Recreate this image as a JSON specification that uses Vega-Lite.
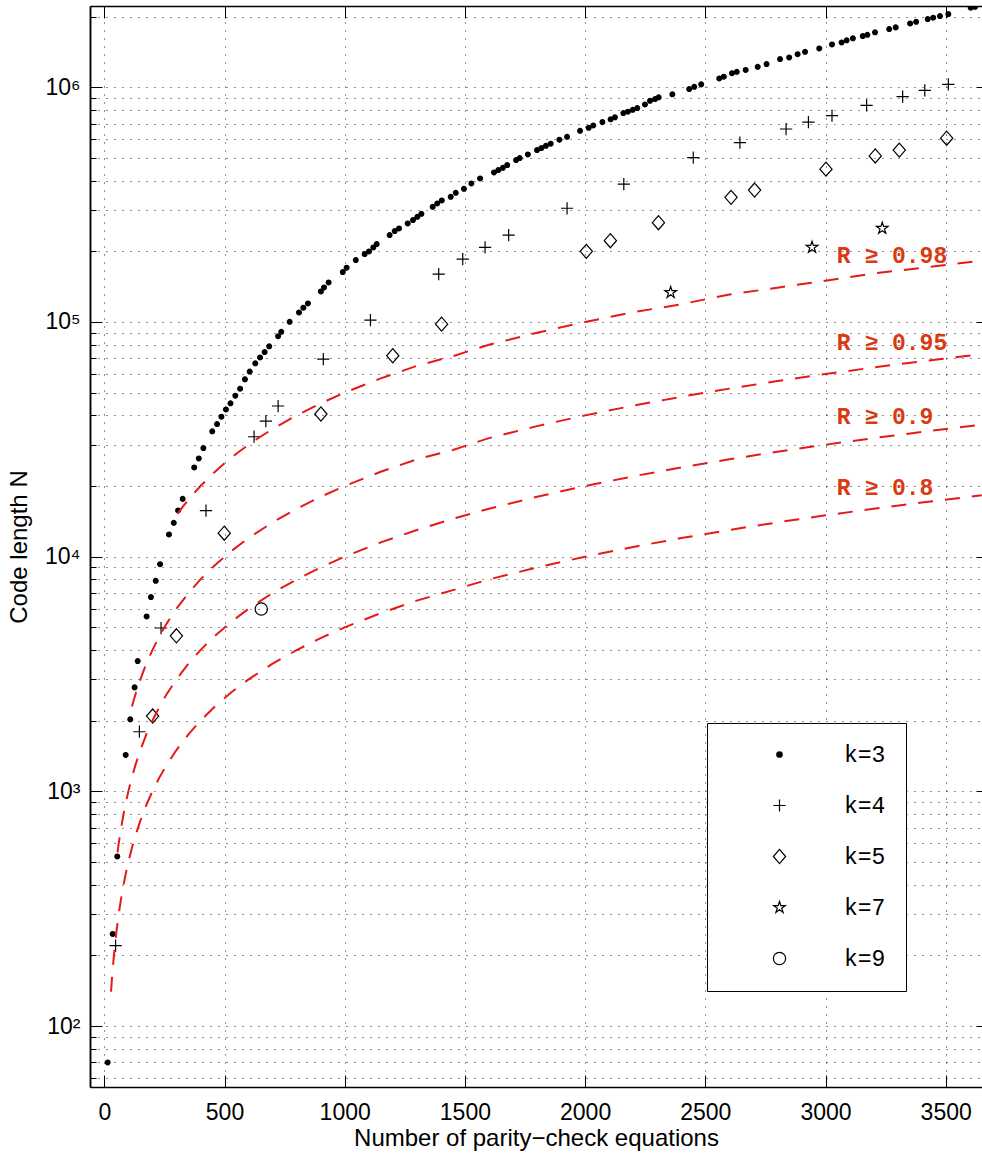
{
  "$schema": "https://vega.github.io/schema/vega-lite/v6.json",
  "width": 892,
  "height": 1081,
  "autosize": {"type": "none"},
  "padding": {"left": 90, "top": 6, "right": 0, "bottom": 66},
  "background": "white",
  "config": {
    "view": {"stroke": null},
    "axis": {"labelFont": "Liberation Sans", "titleFont": "Liberation Sans", "labelColor": "black", "titleColor": "black", "tickColor": "black", "domainColor": "black", "labelFontSize": 23, "titleFontSize": 24, "titleFontWeight": "normal", "labelOverlap": false, "labelFlush": false, "labelBound": false},
    "legend": {"labelFont": "Liberation Mono", "labelFontSize": 23, "labelColor": "black"}
  },
  "datasets": {
    "pts": [
      {"k": "k=3", "M": 14, "N": 70}, {"k": "k=3", "M": 35, "N": 247}, {"k": "k=3", "M": 54, "N": 528}, {"k": "k=3", "M": 89, "N": 1429}, {"k": "k=3", "M": 108, "N": 2028}, {"k": "k=3", "M": 126, "N": 2774}, {"k": "k=3", "M": 139, "N": 3590}, {"k": "k=3", "M": 176, "N": 5565}, {"k": "k=3", "M": 194, "N": 6725}, {"k": "k=3", "M": 214, "N": 7890}, {"k": "k=3", "M": 232, "N": 9290}, {"k": "k=3", "M": 269, "N": 12440}, {"k": "k=3", "M": 289, "N": 13940}, {"k": "k=3", "M": 307, "N": 15740}, {"k": "k=3", "M": 326, "N": 17650}, {"k": "k=3", "M": 374, "N": 23990}, {"k": "k=3", "M": 393, "N": 26220}, {"k": "k=3", "M": 412, "N": 29020}, {"k": "k=3", "M": 449, "N": 34200}, {"k": "k=3", "M": 469, "N": 36730}, {"k": "k=3", "M": 487, "N": 39470}, {"k": "k=3", "M": 506, "N": 42420},
      {"k": "k=3", "M": 525, "N": 45000}, {"k": "k=3", "M": 545, "N": 48500}, {"k": "k=3", "M": 565, "N": 52000}, {"k": "k=3", "M": 585, "N": 57000}, {"k": "k=3", "M": 605, "N": 61500},
      {"k": "k=3", "M": 628, "N": 66640}, {"k": "k=3", "M": 648, "N": 70650}, {"k": "k=3", "M": 667, "N": 74450}, {"k": "k=3", "M": 686, "N": 78720}, {"k": "k=3", "M": 723, "N": 87040}, {"k": "k=3", "M": 736, "N": 90830}, {"k": "k=3", "M": 771, "N": 100200}, {"k": "k=3", "M": 810, "N": 109800}, {"k": "k=3", "M": 828, "N": 115000}, {"k": "k=3", "M": 847, "N": 120000}, {"k": "k=3", "M": 901, "N": 135000}, {"k": "k=3", "M": 914, "N": 140300}, {"k": "k=3", "M": 933, "N": 147400}, {"k": "k=3", "M": 992, "N": 163200}, {"k": "k=3", "M": 1008, "N": 170300}, {"k": "k=3", "M": 1046, "N": 183600}, {"k": "k=3", "M": 1083, "N": 194700}, {"k": "k=3", "M": 1101, "N": 199900}, {"k": "k=3", "M": 1119, "N": 207800}, {"k": "k=3", "M": 1133, "N": 214700}, {"k": "k=3", "M": 1187, "N": 234600}, {"k": "k=3", "M": 1208, "N": 243900}, {"k": "k=3", "M": 1226, "N": 250400}, {"k": "k=3", "M": 1262, "N": 263000}, {"k": "k=3", "M": 1284, "N": 271700}, {"k": "k=3", "M": 1302, "N": 280600}, {"k": "k=3", "M": 1319, "N": 289000}, {"k": "k=3", "M": 1366, "N": 309600}, {"k": "k=3", "M": 1385, "N": 319900}, {"k": "k=3", "M": 1404, "N": 329500}, {"k": "k=3", "M": 1441, "N": 341600}, {"k": "k=3", "M": 1462, "N": 355100}, {"k": "k=3", "M": 1496, "N": 369300}, {"k": "k=3", "M": 1527, "N": 389200}, {"k": "k=3", "M": 1563, "N": 408900}, {"k": "k=3", "M": 1621, "N": 433700}, {"k": "k=3", "M": 1639, "N": 443700}, {"k": "k=3", "M": 1658, "N": 453900}, {"k": "k=3", "M": 1676, "N": 466300}, {"k": "k=3", "M": 1713, "N": 489800}, {"k": "k=3", "M": 1728, "N": 499400}, {"k": "k=3", "M": 1762, "N": 517500}, {"k": "k=3", "M": 1800, "N": 540000}, {"k": "k=3", "M": 1818, "N": 550600}, {"k": "k=3", "M": 1837, "N": 563300}, {"k": "k=3", "M": 1857, "N": 574700}, {"k": "k=3", "M": 1893, "N": 597700}, {"k": "k=3", "M": 1925, "N": 615000}, {"k": "k=3", "M": 1979, "N": 652500}, {"k": "k=3", "M": 2015, "N": 671800}, {"k": "k=3", "M": 2034, "N": 688000}, {"k": "k=3", "M": 2072, "N": 710500}, {"k": "k=3", "M": 2106, "N": 730000}, {"k": "k=3", "M": 2124, "N": 744600}, {"k": "k=3", "M": 2159, "N": 776800}, {"k": "k=3", "M": 2178, "N": 786900}, {"k": "k=3", "M": 2198, "N": 802000}, {"k": "k=3", "M": 2217, "N": 815500}, {"k": "k=3", "M": 2249, "N": 845000},
      {"k": "k=3", "M": 2270, "N": 876000}, {"k": "k=3", "M": 2291, "N": 891000}, {"k": "k=3", "M": 2306, "N": 906000}, {"k": "k=3", "M": 2363, "N": 933000}, {"k": "k=3", "M": 2433, "N": 983000}, {"k": "k=3", "M": 2454, "N": 1005000}, {"k": "k=3", "M": 2483, "N": 1029000}, {"k": "k=3", "M": 2558, "N": 1091000}, {"k": "k=3", "M": 2577, "N": 1109000}, {"k": "k=3", "M": 2611, "N": 1148000}, {"k": "k=3", "M": 2631, "N": 1164000}, {"k": "k=3", "M": 2668, "N": 1185000}, {"k": "k=3", "M": 2718, "N": 1222000}, {"k": "k=3", "M": 2755, "N": 1256000}, {"k": "k=3", "M": 2811, "N": 1319000}, {"k": "k=3", "M": 2849, "N": 1341000}, {"k": "k=3", "M": 2884, "N": 1384000}, {"k": "k=3", "M": 2915, "N": 1416000}, {"k": "k=3", "M": 2974, "N": 1464000}, {"k": "k=3", "M": 3027, "N": 1523000}, {"k": "k=3", "M": 3067, "N": 1553000}, {"k": "k=3", "M": 3088, "N": 1585000}, {"k": "k=3", "M": 3114, "N": 1616000}, {"k": "k=3", "M": 3155, "N": 1652000}, {"k": "k=3", "M": 3174, "N": 1674000}, {"k": "k=3", "M": 3206, "N": 1714000}, {"k": "k=3", "M": 3265, "N": 1771000}, {"k": "k=3", "M": 3292, "N": 1800000}, {"k": "k=3", "M": 3352, "N": 1871000}, {"k": "k=3", "M": 3377, "N": 1902000}, {"k": "k=3", "M": 3425, "N": 1953000}, {"k": "k=3", "M": 3448, "N": 1979000}, {"k": "k=3", "M": 3476, "N": 2011000}, {"k": "k=3", "M": 3511, "N": 2050000}, {"k": "k=3", "M": 3604, "N": 2183000}, {"k": "k=3", "M": 3622, "N": 2203000},
      {"k": "k=4", "M": 47, "N": 220}, {"k": "k=4", "M": 146, "N": 1795}, {"k": "k=4", "M": 236, "N": 4966}, {"k": "k=4", "M": 423, "N": 15710}, {"k": "k=4", "M": 623, "N": 32440}, {"k": "k=4", "M": 672, "N": 37840}, {"k": "k=4", "M": 723, "N": 43850}, {"k": "k=4", "M": 911, "N": 69470}, {"k": "k=4", "M": 1107, "N": 101900}, {"k": "k=4", "M": 1391, "N": 160000}, {"k": "k=4", "M": 1491, "N": 185400}, {"k": "k=4", "M": 1584, "N": 207900}, {"k": "k=4", "M": 1682, "N": 234600}, {"k": "k=4", "M": 1925, "N": 305200}, {"k": "k=4", "M": 2161, "N": 387000}, {"k": "k=4", "M": 2450, "N": 502000}, {"k": "k=4", "M": 2644, "N": 581000}, {"k": "k=4", "M": 2836, "N": 664000}, {"k": "k=4", "M": 2929, "N": 711000}, {"k": "k=4", "M": 3027, "N": 757000}, {"k": "k=4", "M": 3171, "N": 838000}, {"k": "k=4", "M": 3321, "N": 912000}, {"k": "k=4", "M": 3413, "N": 971000}, {"k": "k=4", "M": 3511, "N": 1029000},
      {"k": "k=5", "M": 201, "N": 2094}, {"k": "k=5", "M": 300, "N": 4600}, {"k": "k=5", "M": 499, "N": 12590}, {"k": "k=5", "M": 901, "N": 40550}, {"k": "k=5", "M": 1200, "N": 71800}, {"k": "k=5", "M": 1403, "N": 97900}, {"k": "k=5", "M": 2005, "N": 200000}, {"k": "k=5", "M": 2105, "N": 222000}, {"k": "k=5", "M": 2305, "N": 264800}, {"k": "k=5", "M": 2607, "N": 339600}, {"k": "k=5", "M": 2705, "N": 364800}, {"k": "k=5", "M": 3002, "N": 448000}, {"k": "k=5", "M": 3207, "N": 510000}, {"k": "k=5", "M": 3307, "N": 540000}, {"k": "k=5", "M": 3504, "N": 607000},
      {"k": "k=7", "M": 2356, "N": 133600}, {"k": "k=7", "M": 2944, "N": 208000}, {"k": "k=7", "M": 3236, "N": 250600},
      {"k": "k=9", "M": 653, "N": 5985}
    ],
    "curves": [
      {"R": "0.98", "M": 305, "N": 15250}, {"R": "0.98", "M": 330, "N": 16500}, {"R": "0.98", "M": 360, "N": 18000}, {"R": "0.98", "M": 400, "N": 20000}, {"R": "0.98", "M": 450, "N": 22500}, {"R": "0.98", "M": 500, "N": 25000}, {"R": "0.98", "M": 560, "N": 28000}, {"R": "0.98", "M": 630, "N": 31500}, {"R": "0.98", "M": 700, "N": 35000}, {"R": "0.98", "M": 800, "N": 40000}, {"R": "0.98", "M": 900, "N": 45000}, {"R": "0.98", "M": 1000, "N": 50000}, {"R": "0.98", "M": 1150, "N": 57500}, {"R": "0.98", "M": 1300, "N": 65000}, {"R": "0.98", "M": 1450, "N": 71500}, {"R": "0.98", "M": 1600, "N": 80000}, {"R": "0.98", "M": 1800, "N": 90000}, {"R": "0.98", "M": 2000, "N": 100000}, {"R": "0.98", "M": 2200, "N": 110000}, {"R": "0.98", "M": 2400, "N": 119000}, {"R": "0.98", "M": 2600, "N": 131000}, {"R": "0.98", "M": 2800, "N": 140000}, {"R": "0.98", "M": 3000, "N": 150000}, {"R": "0.98", "M": 3200, "N": 161000}, {"R": "0.98", "M": 3400, "N": 170000}, {"R": "0.98", "M": 3650, "N": 182500},
      {"R": "0.95", "M": 115, "N": 2300}, {"R": "0.95", "M": 125, "N": 2500}, {"R": "0.95", "M": 140, "N": 2800}, {"R": "0.95", "M": 160, "N": 3200}, {"R": "0.95", "M": 180, "N": 3600}, {"R": "0.95", "M": 200, "N": 4000}, {"R": "0.95", "M": 230, "N": 4600}, {"R": "0.95", "M": 260, "N": 5200}, {"R": "0.95", "M": 300, "N": 6000}, {"R": "0.95", "M": 350, "N": 7000}, {"R": "0.95", "M": 400, "N": 8000}, {"R": "0.95", "M": 460, "N": 9200}, {"R": "0.95", "M": 530, "N": 10600}, {"R": "0.95", "M": 600, "N": 12000}, {"R": "0.95", "M": 700, "N": 14000}, {"R": "0.95", "M": 800, "N": 16000}, {"R": "0.95", "M": 900, "N": 18000}, {"R": "0.95", "M": 1000, "N": 20000}, {"R": "0.95", "M": 1150, "N": 23000}, {"R": "0.95", "M": 1300, "N": 26000}, {"R": "0.95", "M": 1450, "N": 28500}, {"R": "0.95", "M": 1600, "N": 32000}, {"R": "0.95", "M": 1800, "N": 36000}, {"R": "0.95", "M": 2000, "N": 40000}, {"R": "0.95", "M": 2200, "N": 44000}, {"R": "0.95", "M": 2400, "N": 48000}, {"R": "0.95", "M": 2600, "N": 52000}, {"R": "0.95", "M": 2800, "N": 56000}, {"R": "0.95", "M": 3000, "N": 60000}, {"R": "0.95", "M": 3200, "N": 64000}, {"R": "0.95", "M": 3400, "N": 68000}, {"R": "0.95", "M": 3650, "N": 73000},
      {"R": "0.9", "M": 55, "N": 550}, {"R": "0.9", "M": 60, "N": 600}, {"R": "0.9", "M": 65, "N": 650}, {"R": "0.9", "M": 70, "N": 700}, {"R": "0.9", "M": 80, "N": 800}, {"R": "0.9", "M": 90, "N": 900}, {"R": "0.9", "M": 100, "N": 1000}, {"R": "0.9", "M": 115, "N": 1150}, {"R": "0.9", "M": 130, "N": 1300}, {"R": "0.9", "M": 150, "N": 1500}, {"R": "0.9", "M": 175, "N": 1750}, {"R": "0.9", "M": 200, "N": 2000}, {"R": "0.9", "M": 230, "N": 2300}, {"R": "0.9", "M": 260, "N": 2600}, {"R": "0.9", "M": 300, "N": 3000}, {"R": "0.9", "M": 350, "N": 3500}, {"R": "0.9", "M": 400, "N": 4000}, {"R": "0.9", "M": 460, "N": 4600}, {"R": "0.9", "M": 530, "N": 5300}, {"R": "0.9", "M": 600, "N": 6000}, {"R": "0.9", "M": 700, "N": 7000}, {"R": "0.9", "M": 800, "N": 8000}, {"R": "0.9", "M": 900, "N": 9000}, {"R": "0.9", "M": 1000, "N": 10000}, {"R": "0.9", "M": 1150, "N": 11500}, {"R": "0.9", "M": 1300, "N": 13000}, {"R": "0.9", "M": 1450, "N": 14500}, {"R": "0.9", "M": 1600, "N": 16000}, {"R": "0.9", "M": 1800, "N": 18000}, {"R": "0.9", "M": 2000, "N": 20000}, {"R": "0.9", "M": 2200, "N": 22000}, {"R": "0.9", "M": 2400, "N": 24000}, {"R": "0.9", "M": 2600, "N": 26000}, {"R": "0.9", "M": 2800, "N": 28000}, {"R": "0.9", "M": 3000, "N": 30000}, {"R": "0.9", "M": 3200, "N": 32000}, {"R": "0.9", "M": 3400, "N": 34000}, {"R": "0.9", "M": 3650, "N": 36500},
      {"R": "0.8", "M": 28, "N": 140}, {"R": "0.8", "M": 32, "N": 160}, {"R": "0.8", "M": 36, "N": 180}, {"R": "0.8", "M": 40, "N": 200}, {"R": "0.8", "M": 45, "N": 225}, {"R": "0.8", "M": 50, "N": 250}, {"R": "0.8", "M": 55, "N": 275}, {"R": "0.8", "M": 60, "N": 300}, {"R": "0.8", "M": 70, "N": 350}, {"R": "0.8", "M": 80, "N": 400}, {"R": "0.8", "M": 90, "N": 450}, {"R": "0.8", "M": 100, "N": 500}, {"R": "0.8", "M": 115, "N": 575}, {"R": "0.8", "M": 130, "N": 650}, {"R": "0.8", "M": 150, "N": 750}, {"R": "0.8", "M": 175, "N": 875}, {"R": "0.8", "M": 200, "N": 1000}, {"R": "0.8", "M": 230, "N": 1150}, {"R": "0.8", "M": 260, "N": 1300}, {"R": "0.8", "M": 300, "N": 1500}, {"R": "0.8", "M": 350, "N": 1750}, {"R": "0.8", "M": 400, "N": 2000}, {"R": "0.8", "M": 460, "N": 2300}, {"R": "0.8", "M": 530, "N": 2650}, {"R": "0.8", "M": 600, "N": 3000}, {"R": "0.8", "M": 700, "N": 3500}, {"R": "0.8", "M": 800, "N": 4000}, {"R": "0.8", "M": 900, "N": 4500}, {"R": "0.8", "M": 1000, "N": 5000}, {"R": "0.8", "M": 1150, "N": 5750}, {"R": "0.8", "M": 1300, "N": 6500}, {"R": "0.8", "M": 1450, "N": 7200}, {"R": "0.8", "M": 1600, "N": 8000}, {"R": "0.8", "M": 1800, "N": 9000}, {"R": "0.8", "M": 2000, "N": 10000}, {"R": "0.8", "M": 2200, "N": 11000}, {"R": "0.8", "M": 2400, "N": 12000}, {"R": "0.8", "M": 2600, "N": 13000}, {"R": "0.8", "M": 2800, "N": 14000}, {"R": "0.8", "M": 3000, "N": 15000}, {"R": "0.8", "M": 3200, "N": 16000}, {"R": "0.8", "M": 3400, "N": 17000}, {"R": "0.8", "M": 3650, "N": 18250}
    ],
    "notes": [
      {"t": "R ≥ 0.98", "M": 3047, "N": 191000},
      {"t": "R ≥ 0.95", "M": 3047, "N": 81100},
      {"t": "R ≥ 0.9", "M": 3047, "N": 39300},
      {"t": "R ≥ 0.8", "M": 3047, "N": 19700}
    ]
  },
  "layer": [
    {
      "data": {"name": "pts"},
      "mark": {"type": "point", "opacity": 1, "stroke": "black", "strokeWidth": 1.2, "clip": true},
      "encoding": {
        "x": {"field": "M", "type": "quantitative", "scale": {"domain": [-59.5, 3651], "nice": false, "zero": false},
          "axis": {"orient": "bottom", "values": [0, 500, 1000, 1500, 2000, 2500, 3000, 3500], "format": "d", "title": "Number of parity−check equations", "grid": true, "gridDash": [1, 7], "gridColor": "black", "gridOpacity": 0.85, "tickSize": -12, "labelPadding": 26, "titlePadding": 2, "domainWidth": 1.5}},
        "y": {"field": "N", "type": "quantitative", "scale": {"type": "log", "domain": [55, 2220000], "nice": false},
          "axis": {"orient": "left", "values": [60, 70, 80, 90, 100, 200, 300, 400, 500, 600, 700, 800, 900, 1000, 2000, 3000, 4000, 5000, 6000, 7000, 8000, 9000, 10000, 20000, 30000, 40000, 50000, 60000, 70000, 80000, 90000, 100000, 200000, 300000, 400000, 500000, 600000, 700000, 800000, 900000, 1000000, 2000000], "labels": false, "title": null, "grid": true, "gridDash": [1, 7], "gridColor": "black", "gridOpacity": 0.85, "tickSize": -6, "domainWidth": 1.5}},
        "shape": {"field": "k", "type": "nominal",
          "scale": {"domain": ["k=3", "k=4", "k=5", "k=7", "k=9"], "range": ["M-0.45,0A0.45,0.45 0 1,0 0.45,0A0.45,0.45 0 1,0 -0.45,0ZM-0.26,0A0.26,0.26 0 1,0 0.26,0A0.26,0.26 0 1,0 -0.26,0ZM-0.08,0A0.08,0.08 0 1,0 0.08,0A0.08,0.08 0 1,0 -0.08,0Z", "M-1,0H1M0,-1V1", "M0,-1.15L1,0L0,1.15L-1,0Z", "M0,-1L0.2245,-0.309L0.951,-0.309L0.3633,0.118L0.588,0.809L0,0.382L-0.588,0.809L-0.3633,0.118L-0.951,-0.309L-0.2245,-0.309Z", "circle"]},
          "legend": {"title": null, "orient": "none", "legendX": 617, "legendY": 717, "strokeColor": "black", "fillColor": "white", "padding": 20, "rowPadding": 27, "labelFont": "Liberation Mono", "labelFontSize": 23, "labelColor": "black", "symbolOffset": 41, "labelOffset": 53, "symbolSize": 150, "symbolStrokeColor": "black", "symbolStrokeWidth": 1.2, "symbolFillColor": "transparent", "symbolOpacity": 1, "zindex": 1}},
        "fill": {"condition": {"test": "datum.k == 'k=3'", "value": "black"}, "value": "transparent"},
        "size": {"condition": {"test": "datum.k == 'k=3'", "value": 114}, "value": 150}
      }
    },
    {
      "data": {"name": "curves"},
      "mark": {"type": "line", "stroke": "#e41a1a", "strokeWidth": 2, "strokeDash": [15, 12], "clip": true},
      "encoding": {
        "x": {"field": "M", "type": "quantitative", "scale": {"domain": [-59.5, 3651], "nice": false, "zero": false},
          "axis": {"orient": "top", "values": [0, 500, 1000, 1500, 2000, 2500, 3000, 3500], "labels": false, "title": null, "grid": false, "tickSize": -12, "domainWidth": 1.5}},
        "y": {"field": "N", "type": "quantitative", "scale": {"type": "log", "domain": [55, 2220000], "nice": false},
          "axis": {"orient": "left", "values": [100, 1000, 10000, 100000, 1000000], "labelExpr": "datum.value == 100 ? '10²' : datum.value == 1000 ? '10³' : datum.value == 10000 ? '10⁴' : datum.value == 100000 ? '10⁵' : '10⁶'", "title": "Code length N", "titlePadding": 13, "grid": false, "tickSize": -12, "labelPadding": 22, "domainWidth": 1.5}},
        "detail": {"field": "R", "type": "nominal"}
      }
    },
    {
      "data": {"name": "notes"},
      "mark": {"type": "text", "font": "Liberation Mono", "fontWeight": "bold", "fontSize": 23, "fill": "#d93a12", "align": "left", "baseline": "middle"},
      "encoding": {
        "x": {"field": "M", "type": "quantitative", "scale": {"domain": [-59.5, 3651], "nice": false, "zero": false}, "axis": null},
        "y": {"field": "N", "type": "quantitative", "scale": {"type": "log", "domain": [55, 2220000], "nice": false},
          "axis": {"orient": "right", "values": [100, 1000, 10000, 100000, 1000000], "labels": false, "title": null, "grid": false, "domain": false, "tickSize": -6}},
        "text": {"field": "t", "type": "nominal"}
      }
    }
  ],
  "resolve": {"axis": {"x": "independent", "y": "independent"}}
}
